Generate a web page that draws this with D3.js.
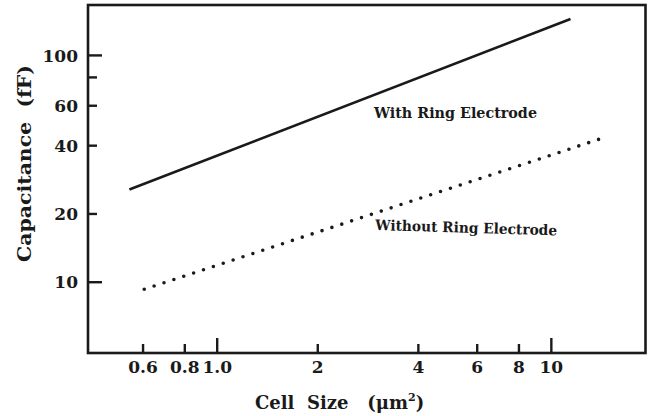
<!DOCTYPE html>
<html><head><meta charset="utf-8">
<script src="https://cdn.jsdelivr.net/npm/d3@7"></script>
<style>
html,body{margin:0;padding:0;background:#fff;}
svg{display:block;}
text{font-family:"DejaVu Serif",serif;font-weight:bold;fill:#1a1a1a;white-space:pre;}
</style></head>
<body>
<svg id="chart" width="655" height="416"></svg>
<script>
// ---- data ----
const xDomain = [0.412, 19.2];
const yDomain = [4.85, 166];
const xTicks = [0.6, 0.8, 1, 2, 4, 6, 8, 10];
const xTickLabels = ["0.6", "0.8", "1.0", "2", "4", "6", "8", "10"];
const xMajor = [1, 10];
const yTicks = [10, 20, 40, 60, 80, 100];
const yTickLabels = ["10", "20", "40", "60", "", "100"];
const yMajor = [10, 100];
const withRingX = [0.548, 11.45];
const withRingY = [25.5, 144];
const withoutRingX = [0.607, 13.95];
const withoutRingY = [9.26, 42.5];
const seriesNames = ["With Ring Electrode", "Without Ring Electrode"];

// ---- layout ----
const L = 88, R = 645.5, T = 5, B = 353;
const svg = d3.select("#chart");
const x = d3.scaleLog().domain(xDomain).range([L, R]);
const y = d3.scaleLog().domain(yDomain).range([B, T]);
const ink = "#1a1a1a";

// frame
svg.append("rect").attr("x", L).attr("y", T).attr("width", R - L).attr("height", B - T)
  .attr("fill", "none").attr("stroke", ink).attr("stroke-width", 2.6);

// x axis
const xa = svg.append("g").attr("transform", `translate(0,${B})`)
  .call(d3.axisBottom(x).tickValues(xTicks).tickFormat((d, i) => xTickLabels[i]).tickSizeOuter(0).tickPadding(0));
xa.select(".domain").remove();
xa.selectAll(".tick line").attr("y2", d => xMajor.includes(d) ? -15 : -9)
  .attr("stroke", ink).attr("stroke-width", 2.4);
xa.selectAll(".tick text").attr("y", 20).attr("dy", 0).attr("font-size", 17)
  .style("font-family", "DejaVu Serif").style("font-weight", "bold").attr("fill", ink);

// y axis
const ya = svg.append("g").attr("transform", `translate(${L},0)`)
  .call(d3.axisLeft(y).tickValues(yTicks).tickFormat((d, i) => yTickLabels[i]).tickSizeOuter(0));
ya.select(".domain").remove();
ya.selectAll(".tick line").attr("x2", d => yMajor.includes(d) ? 14 : 9)
  .attr("stroke", ink).attr("stroke-width", 2.4);
ya.selectAll(".tick text").attr("x", -10).attr("dy", "0.36em").attr("font-size", 17)
  .style("font-family", "DejaVu Serif").style("font-weight", "bold").attr("fill", ink);

// lines
const line = d3.line().x(d => x(d[0])).y(d => y(d[1]));
svg.append("path").datum(d3.zip(withRingX, withRingY)).attr("d", line)
  .attr("fill", "none").attr("stroke", ink).attr("stroke-width", 2.6);
svg.append("path").datum(d3.zip(withoutRingX, withoutRingY)).attr("d", line)
  .attr("fill", "none").attr("stroke", ink).attr("stroke-width", 3.6)
  .attr("stroke-linecap", "round").attr("stroke-dasharray", "0 10.4");

// series labels
svg.append("text").attr("x", 374).attr("y", 117.5).attr("font-size", 14.5)
  .attr("textLength", 163).attr("lengthAdjust", "spacingAndGlyphs").text(seriesNames[0]);
svg.append("text").attr("transform", "translate(375,230) rotate(1.7)").attr("font-size", 14.5)
  .attr("textLength", 182).attr("lengthAdjust", "spacingAndGlyphs").text(seriesNames[1]);

// axis titles
const xt = svg.append("text").attr("x", 255).attr("y", 408.5).attr("font-size", 18);
xt.append("tspan").text("Cell  Size   (μm");
xt.append("tspan").attr("font-size", 11).attr("dy", -8).text("2");
xt.append("tspan").attr("dy", 8).text(")");
svg.append("text").attr("transform", "translate(31,262) rotate(-90)").attr("font-size", 18)
  .attr("textLength", 197).attr("lengthAdjust", "spacingAndGlyphs").text("Capacitance  (fF)");
</script>
</body></html>
